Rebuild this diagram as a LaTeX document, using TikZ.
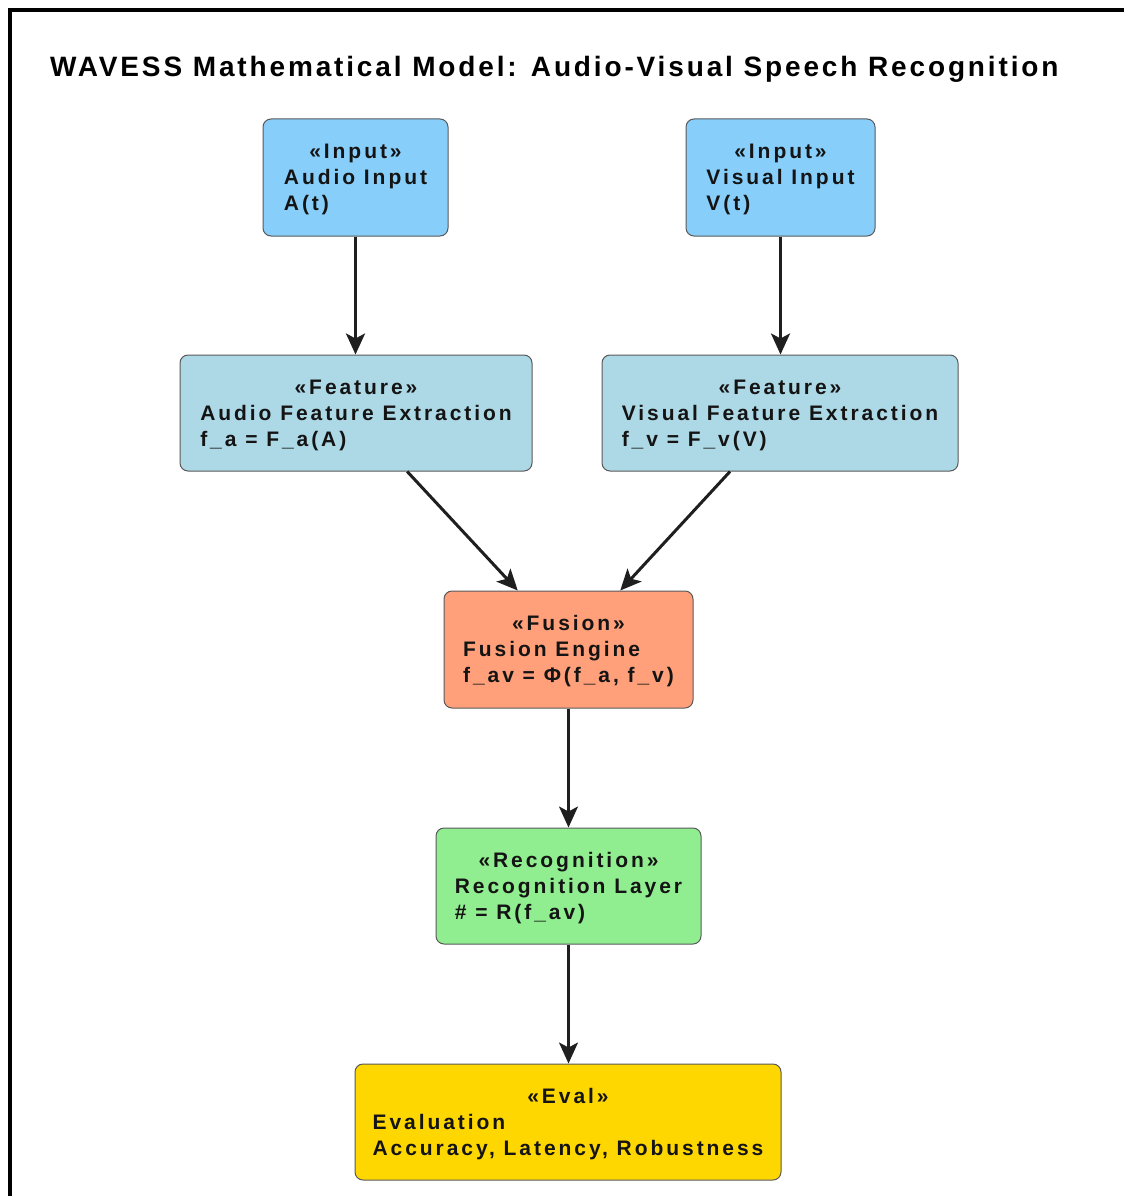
\documentclass[tikz,border=0pt]{standalone}
\usepackage{fontspec}
\setmainfont{Liberation Sans}
\newfontfamily\boxfont[LetterSpace=14]{Liberation Sans}
\newfontfamily\ttlfont[LetterSpace=10.2]{Liberation Sans}
\usetikzlibrary{arrows.meta,calc}
\definecolor{inputc}{HTML}{87CEFA}
\definecolor{featc}{HTML}{ADD8E6}
\definecolor{fusc}{HTML}{FFA07A}
\definecolor{recc}{HTML}{90EE90}
\definecolor{evalc}{HTML}{FFD700}
\newcommand\boxtext[3]{\begin{tabular}{@{}l@{}}\multicolumn{1}{@{}c@{}}{\rule{0pt}{22.5pt}#1}\\#2\\#3\end{tabular}}
\begin{document}
\begin{tikzpicture}[x=1pt,y=-1pt,
  box/.style={draw=black!65, line width=1pt, rounded corners=8pt, inner sep=0pt,
    font=\boxfont\bfseries\fontsize{21}{26}\selectfont, text=black!92},
  arr/.style={-{Stealth[length=21pt,width=19pt,inset=5pt]}, line width=3pt, draw=black!88},
  arrthin/.style={arr, line width=2.2pt}]
\useasboundingbox (0,0) rectangle (1124,1196);
\draw[line width=4pt] (10,1196) -- (10,10) -- (1124,10);
\node[anchor=base west, font=\ttlfont\bfseries\fontsize{28}{34}\selectfont, inner sep=0pt] (title) at (50,77)
  {WAVESS Mathematical Model: Audio-Visual Speech Recognition};
\node[box, fill=inputc, minimum width=185pt, minimum height=117pt] (ain) at (355.5,177.5)
  {\boxtext{«Input»}{Audio Input}{A(t)}};
\node[box, fill=inputc, minimum width=189pt, minimum height=117pt] (vin) at (780.5,177.5)
  {\boxtext{«Input»}{Visual Input}{V(t)}};
\node[box, fill=featc, minimum width=352pt, minimum height=116pt] (afe) at (356,413)
  {\boxtext{«Feature»}{Audio Feature Extraction}{f\_a = F\_a(A)}};
\node[box, fill=featc, minimum width=356pt, minimum height=116pt] (vfe) at (780,413)
  {\boxtext{«Feature»}{Visual Feature Extraction}{f\_v = F\_v(V)}};
\node[box, fill=fusc, minimum width=249pt, minimum height=117pt] (fus) at (568.5,649.5)
  {\boxtext{«Fusion»}{Fusion Engine}{f\_av = Φ(f\_a, f\_v)}};
\node[box, fill=recc, minimum width=265pt, minimum height=116pt] (rec) at (568.5,886)
  {\boxtext{«Recognition»}{Recognition Layer}{\# = R(f\_av)}};
\node[box, fill=evalc, minimum width=426pt, minimum height=116pt] (ev) at (568,1122)
  {\boxtext{«Eval»}{Evaluation}{Accuracy, Latency, Robustness}};
\coordinate (afs) at ($(afe.south west)!0.645!(afe.south east)$);
\coordinate (vfs) at ($(vfe.south west)!0.36!(vfe.south east)$);
\coordinate (fa) at ($(fus.north west)!0.297!(fus.north east)$);
\coordinate (fv) at ($(fus.north west)!0.707!(fus.north east)$);
\draw[arr] (ain.south) -- (ain.south |- afe.north);
\draw[arr] (vin.south) -- (vin.south |- vfe.north);
\draw[arr] (afs) -- (fa);
\draw[arr] (vfs) -- (fv);
\draw[arrthin] (fus.south) -- (rec.north);
\draw[arrthin] (rec.south) -- (ev.north -| rec.south);
\end{tikzpicture}
\end{document}
